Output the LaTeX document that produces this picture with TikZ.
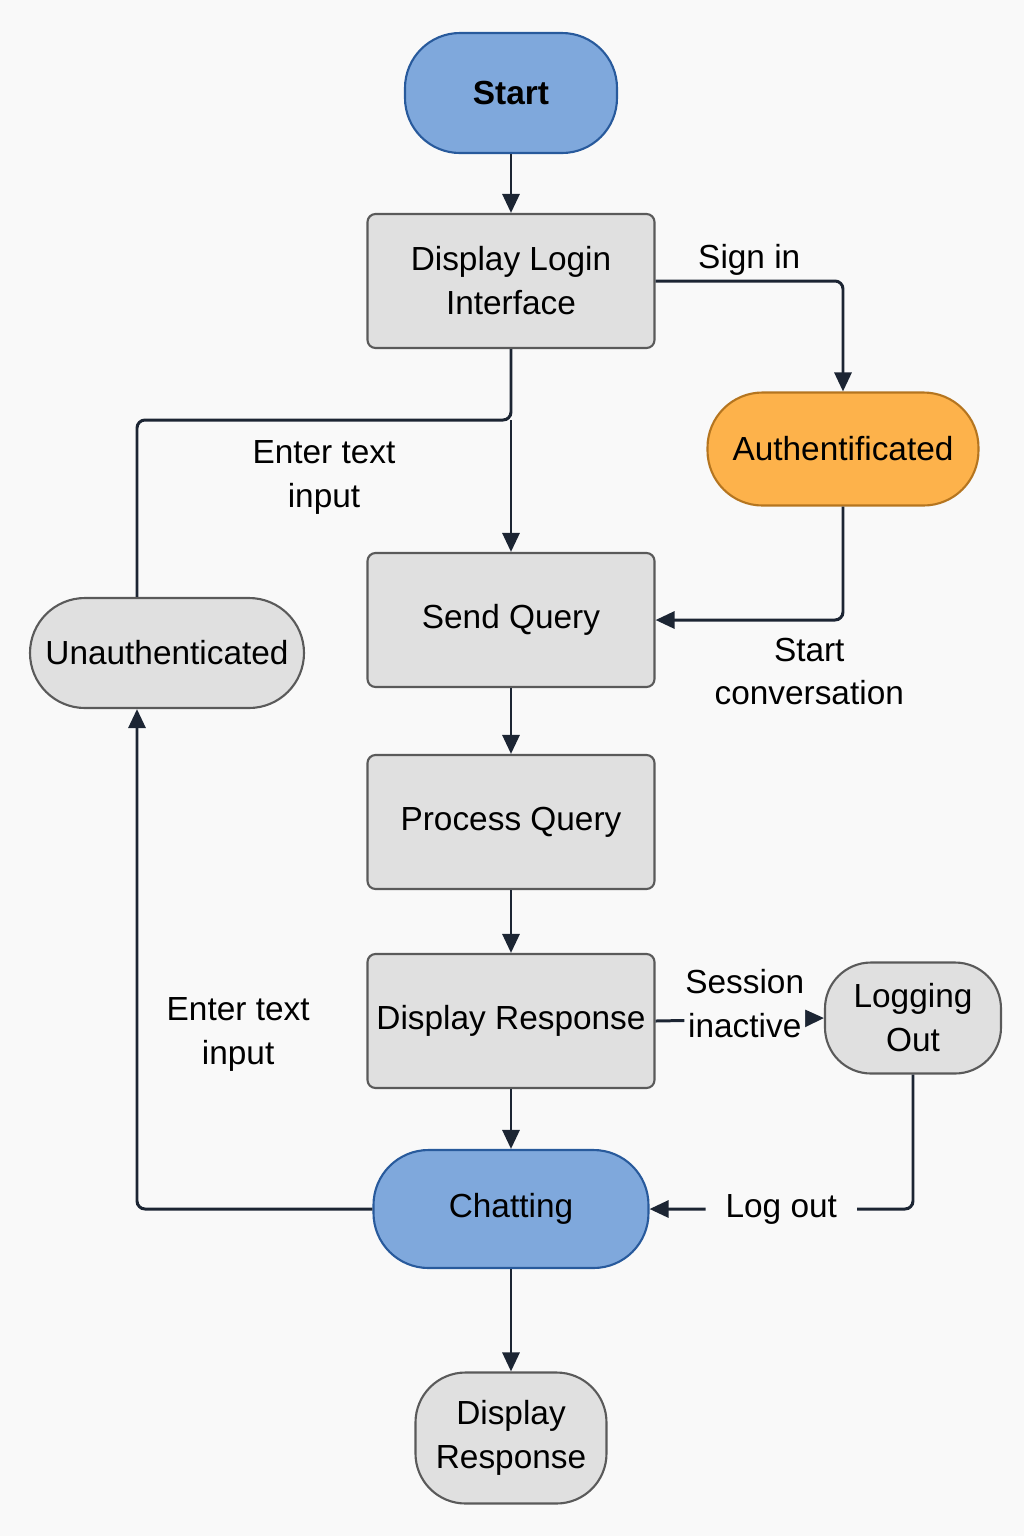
\documentclass[tikz,border=0pt]{standalone}
\usepackage{fontspec}
\setmainfont{Liberation Sans}
\usepackage{tikz}
\usetikzlibrary{positioning, arrows.meta}
\definecolor{bgcol}{HTML}{F9F9F9}
\definecolor{bluefill}{HTML}{7FA8DC}
\definecolor{blueline}{HTML}{285A9C}
\definecolor{orangefill}{HTML}{FDB24B}
\definecolor{orangeline}{HTML}{B5751F}
\definecolor{grayfill}{HTML}{E0E0E0}
\definecolor{grayline}{HTML}{5A5A5A}
\definecolor{wire}{HTML}{1C2533}
\tikzset{proc/.style = {draw=grayline, fill=grayfill, line width=0.6pt, rounded corners=0.8mm,
                        minimum width=28.7mm, minimum height=13.4mm, inner sep=1pt, align=center,
                        font=\fontsize{9.5}{12.5}\selectfont},
         term/.style = {draw=grayline, fill=grayfill, line width=0.6pt, rounded corners=5.5mm,
                        inner sep=1pt, align=center, font=\fontsize{9.5}{12.5}\selectfont},
         arr/.style  = {draw=wire, line width=0.85pt, rounded corners=0.8mm,
                        -{Triangle[length=1.9mm,width=1.7mm]}},
         lbl/.style  = {align=center, inner sep=1.2pt, text=black, font=\fontsize{9.5}{12.5}\selectfont}}
\begin{document}
\begin{tikzpicture}[x=0.1mm, y=-0.1mm]
            \fill [bgcol] (0, 0) rectangle (1024, 1536);

            \node [term, fill=bluefill, draw=blueline, minimum width=21.2mm, minimum height=12mm,
                   font=\fontsize{9.5}{12.5}\selectfont\bfseries]              (start)  at (511,   93) {Start};
            \node [proc]                                                         (login)  at (511,  281) {Display Login\\Interface};
            \node [term, fill=orangefill, draw=orangeline,
                   minimum width=27.1mm, minimum height=11.3mm]                  (auth)   at (843,  449) {Authentificated};
            \node [proc]                                                         (sendq)  at (511,  620) {Send Query};
            \node [term, minimum width=27.4mm, minimum height=11mm]              (unauth) at (167,  653) {Unauthenticated};
            \node [proc]                                                         (procq)  at (511,  822) {Process Query};
            \node [proc]                                                         (dresp)  at (511, 1021) {Display Response};
            \node [term, minimum width=17.6mm, minimum height=11.1mm,
                   rounded corners=4.6mm]                                        (logout) at (913, 1018) {Logging\\Out};
            \node [term, fill=bluefill, draw=blueline,
                   minimum width=27.5mm, minimum height=11.8mm]                  (chat)   at (511, 1209) {Chatting};
            \node [term, minimum width=19.1mm, minimum height=13.1mm,
                   rounded corners=5mm]                                          (final)  at (511, 1438) {Display\\Response};

            \coordinate (split) at (511, 420);

            \draw [arr] (start) -- (login);
            \draw [arr] (login.east) -| node [lbl, above, pos=0.25] {Sign in} (auth.north);
            \draw [arr] (auth.south) |- node [lbl, below=1.2mm, pos=0.59] {Start\\conversation} (sendq.east);
            \draw [arr, -] (login.south) -- (split) -| node [lbl, below=1.5mm, pos=0.25] {Enter text\\input} ([xshift=-3mm]unauth.north);
            \draw [arr] (split) -- (sendq.north);
            \draw [arr] (sendq) -- (procq);
            \draw [arr] (procq) -- (dresp);
            \draw [arr] (dresp) -- (chat);
            \draw [arr] (chat) -- (final);
            \draw [arr] (dresp.east) -- node [lbl, fill=bgcol, inner xsep=0.3pt, yshift=1.6mm, xshift=0.5mm] {Session\\inactive} (logout.west);
            \draw [arr] (logout.south) |- node [lbl, fill=bgcol, pos=0.75, inner xsep=2mm] {Log out} (chat.east);
            \draw [arr] (chat.west) -| node [lbl, right=2.4mm, pos=0.675] {Enter text\\input} ([xshift=-3mm]unauth.south);
        \end{tikzpicture}
\end{document}
